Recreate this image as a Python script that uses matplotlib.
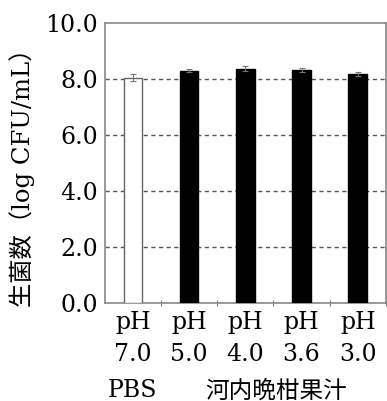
import matplotlib
matplotlib.use("Agg")
import matplotlib.pyplot as plt

# -------------------------
# Data
# -------------------------
ph_labels = ["pH\n7.0", "pH\n5.0", "pH\n4.0", "pH\n3.6", "pH\n3.0"]
counts = [8.05, 8.29, 8.37, 8.31, 8.17]
errors = [0.12, 0.05, 0.10, 0.08, 0.07]
face_colors = ["white", "black", "black", "black", "black"]
group_labels = ["PBS", "河内晩柑果汁"]
y_ticks = [0.0, 2.0, 4.0, 6.0, 8.0, 10.0]

FONTS = ["DejaVu Serif", "Noto Sans CJK JP"]
plt.rcParams["font.family"] = FONTS
plt.rcParams["font.size"] = 17

fig = plt.figure(figsize=(3.87, 4.01), dpi=100)
ax = fig.add_axes([0.271, 0.2456, 0.726, 0.697])

x = list(range(len(counts)))
ax.bar(x, counts, width=0.33, color=face_colors, edgecolor=["#666666"] + ["black"] * 4,
       linewidth=1.0, zorder=3)
ax.errorbar(x, counts, yerr=errors, fmt="none", ecolor="#777777", elinewidth=0.8,
            capsize=2.5, capthick=0.8, zorder=4)

ax.set_xlim(-0.5, 4.5)
ax.set_ylim(0, 10)
ax.set_yticks(y_ticks)
ax.set_yticklabels([f"{v:.1f}" for v in y_ticks])
for v in y_ticks[1:-1]:
    ax.axhline(v, color="#555555", linewidth=1.0, linestyle=(0, (3, 2.5)), zorder=1)

# category labels as text, ticks sit between bars
ax.set_xticks([i + 0.5 for i in x])
ax.set_xticklabels([])
ax.tick_params(axis="x", direction="inout", length=4, color="#777777")
ax.tick_params(axis="y", length=0, pad=5)
for i, lab in enumerate(ph_labels):
    ax.text(i, -0.3, lab, ha="center", va="top", linespacing=1.5,
            transform=ax.transData, clip_on=False)

ax.text(0, -2.75, group_labels[0], ha="center", va="top", clip_on=False)
ax.text(2.55, -2.75, group_labels[1], ha="center", va="top", clip_on=False)

for s in ax.spines.values():
    s.set_color("#888888")
    s.set_linewidth(1.2)

fig.text(0.057, 0.571, "生菌数（log CFU/mL）", rotation=90, ha="center", va="center",
         fontsize=17.5)

fig.savefig("out.png", dpi=100)
